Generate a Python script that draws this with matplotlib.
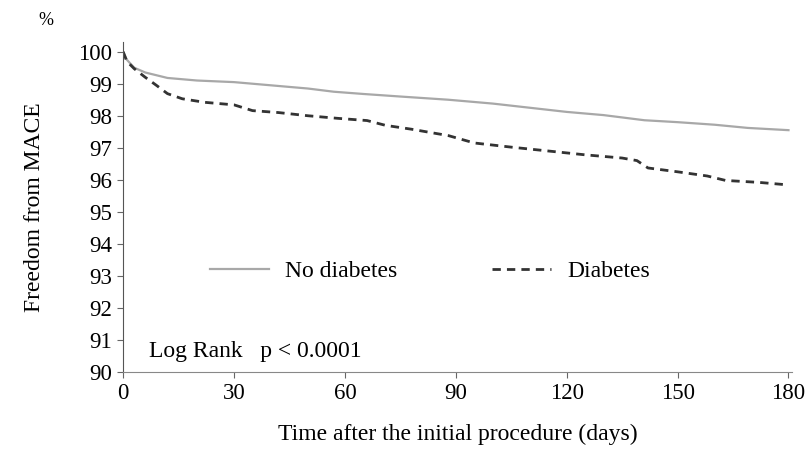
import matplotlib.pyplot as plt

plt.rcParams['font.family'] = ['Liberation Serif', 'DejaVu Serif']

days_no = [0, 1, 3, 6, 12, 20, 30, 40, 50, 57, 65, 75, 88, 100, 110, 120, 130, 141, 150, 160, 169, 180]
surv_no = [100, 99.75, 99.5, 99.35, 99.18, 99.1, 99.05, 98.95, 98.85, 98.75, 98.68, 98.6, 98.5, 98.38, 98.25, 98.12, 98.02, 97.86, 97.8, 97.72, 97.62, 97.55]

days_dm = [0, 1, 3, 6, 9, 12, 16, 22, 30, 35, 42, 50, 58, 66, 71, 78, 88, 95, 105, 115, 125, 135, 139, 142, 150, 158, 163, 172, 180]
surv_dm = [100, 99.7, 99.47, 99.2, 98.95, 98.69, 98.53, 98.42, 98.34, 98.16, 98.1, 98.0, 97.92, 97.85, 97.7, 97.58, 97.38, 97.15, 97.02, 96.9, 96.78, 96.68, 96.6, 96.37, 96.25, 96.12, 95.98, 95.92, 95.84]

xticks = [0, 30, 60, 90, 120, 150, 180]
yticks = list(range(90, 101))

fig = plt.figure(figsize=(8.1, 4.66), dpi=100)
ax = fig.add_axes([0.152, 0.2017, 0.826, 0.708])

ax.plot(days_no, surv_no, color='#a8a8a8', lw=1.6, label='No diabetes')
ax.plot(days_dm, surv_dm, color='#333333', lw=2.0, ls=(0, (3, 2.2)), label='Diabetes')

ax.set_xlim(0, 181)
ax.set_ylim(90, 100.3)
ax.set_xticks(xticks)
ax.set_yticks(yticks)
ax.tick_params(labelsize=16.5, length=4, color='#666666', direction='out', pad=4)
for s in ['top', 'right']:
    ax.spines[s].set_visible(False)
ax.spines['left'].set_color('#555555')
ax.spines['bottom'].set_color('#888888')

ax.set_ylabel('Freedom from MACE', fontsize=17, labelpad=24)
ax.set_xlabel('Time after the initial procedure (days)', fontsize=17, labelpad=14)
fig.text(0.047, 0.955, '%', fontsize=13, ha='left', va='center')

ax.text(7, 90.65, 'Log Rank   p < 0.0001', fontsize=17, va='center')

ax.legend(loc='center', bbox_to_anchor=(0.459, 0.305), ncol=2, frameon=False,
          fontsize=17, handlelength=2.5, columnspacing=4.0, handletextpad=0.7)

fig.savefig('out.png', dpi=100)
